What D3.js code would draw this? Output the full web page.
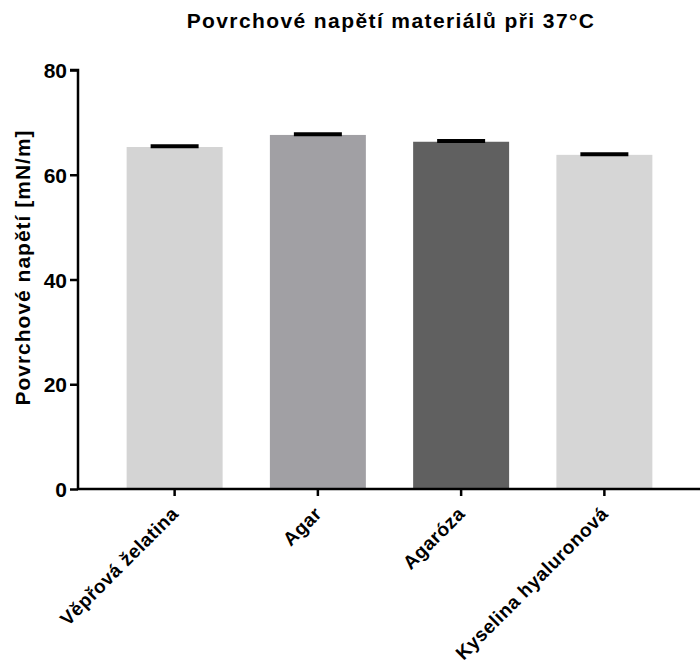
<!DOCTYPE html>
<html>
<head>
<meta charset="utf-8">
<script src="https://cdn.jsdelivr.net/npm/d3@7"></script>
<style>
  html, body { margin: 0; padding: 0; background: #fff; }
  svg text { font-family: "Liberation Sans", Arial, sans-serif; font-weight: bold; fill: #000; }
</style>
</head>
<body>
<svg id="chart" width="700" height="663"></svg>
<script>
// Surface tension of materials at 37 °C (mean ± SD)
const categories = ["Věpřová želatina", "Agar", "Agaróza", "Kyselina hyaluronová"];
const means = [65.3, 67.6, 66.3, 63.8];
const sds = [0.15, 0.15, 0.15, 0.1];
const barColors = ["#d4d4d4", "#a1a0a4", "#606060", "#d6d6d6"];
const yTicks = [0, 20, 40, 60, 80];

const svg = d3.select("#chart");
const margin = { left: 78, right: 0, top: 70, bottom: 174 };
const W = 700, H = 663;
const axisY = H - margin.bottom; // 489

const x = d3.scaleBand()
  .domain(categories)
  .range([margin.left + 25, W - 24])
  .paddingInner(0.33)
  .paddingOuter(0.165);

const y = d3.scaleLinear().domain([0, 80]).range([axisY, margin.top]);

// bars
svg.append("g").selectAll("rect")
  .data(categories)
  .join("rect")
  .attr("x", d => x(d))
  .attr("width", x.bandwidth())
  .attr("y", (d, i) => y(means[i]))
  .attr("height", (d, i) => y(0) - y(means[i]))
  .attr("fill", (d, i) => barColors[i]);

// upper error bars (cap at mean + SD)
const eb = svg.append("g").attr("stroke", "#000");
categories.forEach((d, i) => {
  const cx = x(d) + x.bandwidth() / 2;
  const top = y(means[i] + sds[i]);
  eb.append("line").attr("x1", cx).attr("x2", cx)
    .attr("y1", y(means[i])).attr("y2", top).attr("stroke-width", 2);
  eb.append("line").attr("x1", cx - x.bandwidth() / 4).attr("x2", cx + x.bandwidth() / 4)
    .attr("y1", top).attr("y2", top).attr("stroke-width", 4);
});

// y axis
const yAxis = svg.append("g")
  .attr("transform", `translate(${margin.left},0)`)
  .call(d3.axisLeft(y).tickValues(yTicks).tickSize(8).tickPadding(3));
yAxis.select(".domain").attr("stroke-width", 2.5).attr("d", `M-8,${y(80)}H0V${axisY}`);
yAxis.selectAll(".tick line").attr("stroke-width", 2.5);
yAxis.selectAll(".tick text").style("font-size", "21px").attr("dy", "0.36em");

// x axis
const xAxis = svg.append("g")
  .attr("transform", `translate(0,${axisY})`)
  .call(d3.axisBottom(x).tickSize(7).tickFormat(() => ""));
xAxis.select(".domain").attr("stroke-width", 2.5).attr("d", `M${margin.left},0H${W}`);
xAxis.selectAll(".tick line").attr("stroke-width", 2.5);

// rotated category labels
svg.append("g").selectAll("text")
  .data(categories)
  .join("text")
  .attr("text-anchor", "end")
  .attr("transform", d => `translate(${x(d) + x.bandwidth() / 2 + 5},${axisY + 26}) rotate(-45)`)
  .style("font-size", "19px")
  .style("letter-spacing", "0.5px")
  .text(d => d);

// y axis title
svg.append("text")
  .attr("text-anchor", "middle")
  .attr("transform", `translate(30,${(margin.top + axisY) / 2 - 12}) rotate(-90)`)
  .style("font-size", "21px")
  .style("letter-spacing", "1px")
  .text("Povrchové napětí [mN/m]");

// chart title
svg.append("text")
  .attr("x", 391).attr("y", 28)
  .attr("text-anchor", "middle")
  .style("font-size", "21px")
  .style("letter-spacing", "1.4px")
  .text("Povrchové napětí materiálů při 37°C");
</script>
</body>
</html>
